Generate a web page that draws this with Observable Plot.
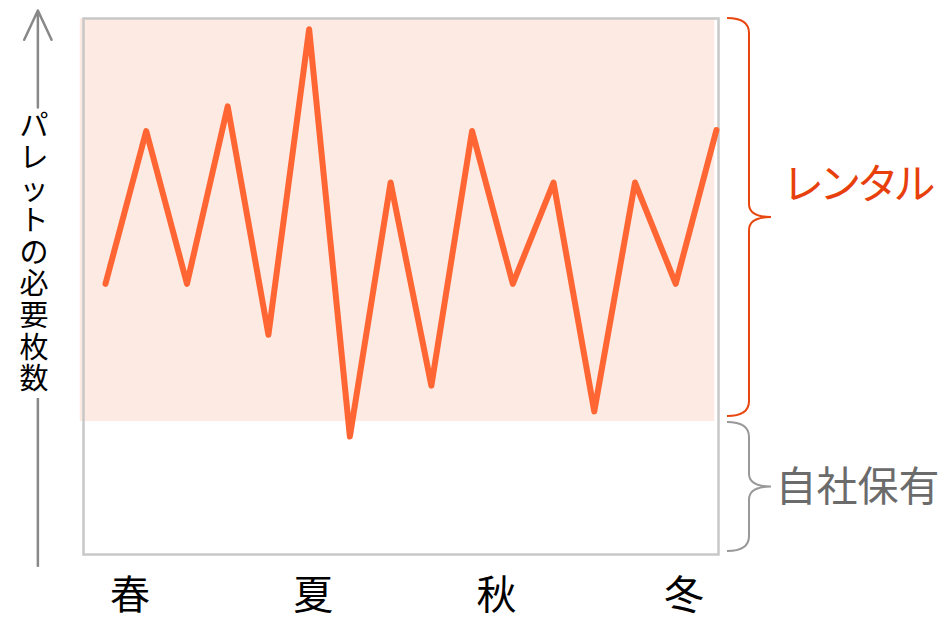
<!DOCTYPE html>
<html>
<head>
<meta charset="utf-8">
<script src="https://cdn.jsdelivr.net/npm/d3@7"></script>
<script src="https://cdn.jsdelivr.net/npm/@observablehq/plot@0.6"></script>
<style>
  html, body { margin: 0; padding: 0; background: #fff; }
  #chart svg { display: block; }
</style>
</head>
<body>
<div id="chart"></div>
<script>
// ---- data ----
const period = [0, 1, 2, 3, 4, 5, 6, 7, 8, 9, 10, 11, 12, 13, 14, 15];
const pallets = [50.5, 79, 50.5, 83.6, 41, 98, 22, 69.4, 31.5, 79, 50.5, 69.4, 26.7, 69.4, 50.5, 79.2];
const seasons = ["春", "夏", "秋", "冬"];
const seasonPos = [0.6, 5.1, 9.6, 14.2];
const ownedLevel = 24.8;   // 自社保有 capacity
const scaleTop = 100;
const yLabel = "パレットの必要枚数";
const rentalLabel = "レンタル";
const ownedLabel = "自社保有";

const data = period.map((p, i) => ({period: p, value: pallets[i]}));

const FONT = "'Noto Sans CJK JP', 'Noto Sans', sans-serif";
const axisX = -1.66;

function brace(v0, v1, color, insetTop, insetBottom) {
  return (index, scales, values, dims) => {
    const y = scales.y;
    const x0 = dims.width - dims.marginRight + 9;
    const xv = x0 + 22, xt = x0 + 44;
    const yT = y(v1) + insetTop, yB = y(v0) - insetBottom, ym = (yT + yB) / 2;
    const p = d3.path();
    p.moveTo(x0, yT);
    p.quadraticCurveTo(xv, yT, xv, yT + 15);
    p.lineTo(xv, ym - 13);
    p.quadraticCurveTo(xv, ym, xt, ym);
    p.quadraticCurveTo(xv, ym, xv, ym + 13);
    p.lineTo(xv, yB - 15);
    p.quadraticCurveTo(xv, yB, x0, yB);
    const el = d3.create("svg:path")
      .attr("d", p.toString())
      .attr("fill", "none")
      .attr("stroke", color)
      .attr("stroke-width", 2);
    return el.node();
  };
}

const chart = Plot.plot({
  width: 947,
  height: 620,
  marginLeft: 83,
  marginRight: 229,
  marginTop: 18,
  marginBottom: 66,
  style: {fontFamily: FONT, background: "#fff"},
  x: {domain: [-0.54, 15.05], axis: null},
  y: {domain: [0, scaleTop], axis: null},
  marks: [
    Plot.rect([0], {x1: -0.62, x2: 14.96, y1: ownedLevel, y2: scaleTop, fill: "#fdeae3"}),
    Plot.frame({stroke: "#c8c8c8", strokeWidth: 2.5}),
    Plot.line(data, {x: "period", y: "value", stroke: "#ff6633", strokeWidth: 6,
      strokeLinejoin: "round", strokeLinecap: "round"}),
    // y-axis arrow with vertical label
    Plot.arrow([0], {x1: axisX, x2: axisX, y1: 83.4, y2: 101.5, stroke: "#888",
      strokeWidth: 2.5, headLength: 22, headAngle: 50}),
    Plot.ruleX([axisX], {y1: -2.4, y2: 29.1, stroke: "#888", strokeWidth: 2.5}),
    Plot.text([yLabel.split("").join("\n")], {x: axisX, y: 56.3, dx: -4, fontSize: 29,
      lineHeight: 1.09, lineAnchor: "middle", fill: "#000"}),
    // season labels
    Plot.text(seasons, {x: seasonPos, frameAnchor: "bottom", dy: 42, fontSize: 40,
      lineAnchor: "middle", fill: "#000"}),
    // braces and labels
    brace(ownedLevel, scaleTop, "#e8470f", 0, 5),
    brace(0, ownedLevel, "#999", 1, 3),
    Plot.text([rentalLabel], {frameAnchor: "right", y: (ownedLevel + scaleTop) / 2, dx: 66, dy: -34,
      textAnchor: "start", lineAnchor: "middle", fontSize: 42, fill: "#e8400c"}),
    Plot.text([ownedLabel], {frameAnchor: "right", y: ownedLevel / 2, dx: 57,
      textAnchor: "start", lineAnchor: "middle", fontSize: 41, fill: "#6b6b6b"})
  ]
});
// proportional kana, like the reference's font
d3.select(chart).selectAll("text")
  .filter(function () { return this.textContent === rentalLabel; })
  .style("font-feature-settings", "'palt'");
document.getElementById("chart").append(chart);
</script>
</body>
</html>
